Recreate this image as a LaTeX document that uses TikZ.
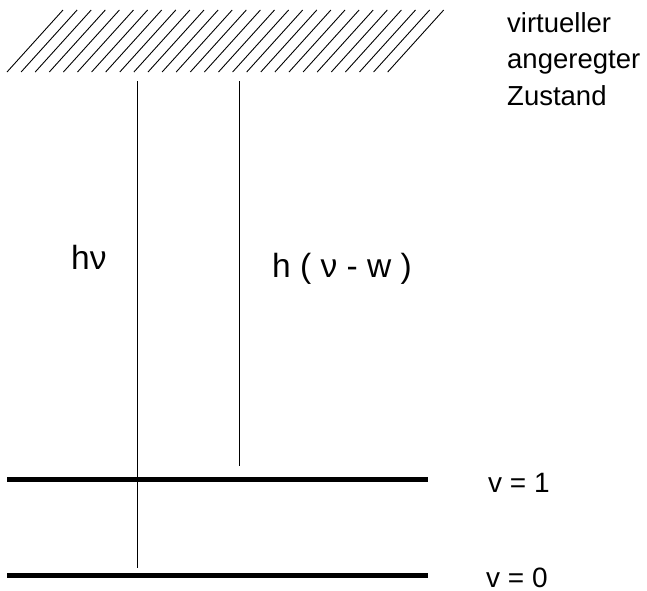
\documentclass[tikz,border=0pt]{standalone}
\usepackage{fontspec}
\setmainfont{Liberation Sans}
\begin{document}
\begin{tikzpicture}[x=1pt,y=-1pt,
  hatch/.style={line width=0.9pt},
  thin/.style={line width=0.9pt},
  level/.style={line width=5pt},
  lab/.style={anchor=base west,inner sep=0pt,font=\fontsize{27.5}{33}\selectfont},
  big/.style={lab,font=\fontsize{33.5}{40}\selectfont},
  vlab/.style={lab,font=\fontsize{28}{34}\selectfont}]
\useasboundingbox (0,0) rectangle (647,590);
% hatched virtual state
\foreach \i in {0,...,27}
  \draw[hatch] ({7+\i*14.1},72) -- ({63+\i*14.1},10);
% levels
\draw[level] (7,479) coordinate (l1a) -- (428,479) coordinate (l1b);
\draw[level] (7,575) coordinate (l0a) -- (428,575) coordinate (l0b);
% transitions
\coordinate (t1) at (137,81);
\coordinate (b1) at (137,568);
\coordinate (t2) at (239,81);
\coordinate (b2) at (239,466);
\draw[thin] (t1) -- (b1);
\draw[thin] (t2) -- (b2);
% labels
\node[lab] (z1) at (507,32) {virtueller};
\node[lab] (z2) at (507,68) {angeregter};
\node[lab] (z3) at (507,105) {Zustand};
\node[big] (hn) at (71,269) {hν};
\node[big] (hnw) at (272,277) {h ( ν - w )};
\node[vlab] (v1) at (488,492) {v = 1};
\node[vlab] (v0) at (486,587) {v = 0};
\end{tikzpicture}
\end{document}
